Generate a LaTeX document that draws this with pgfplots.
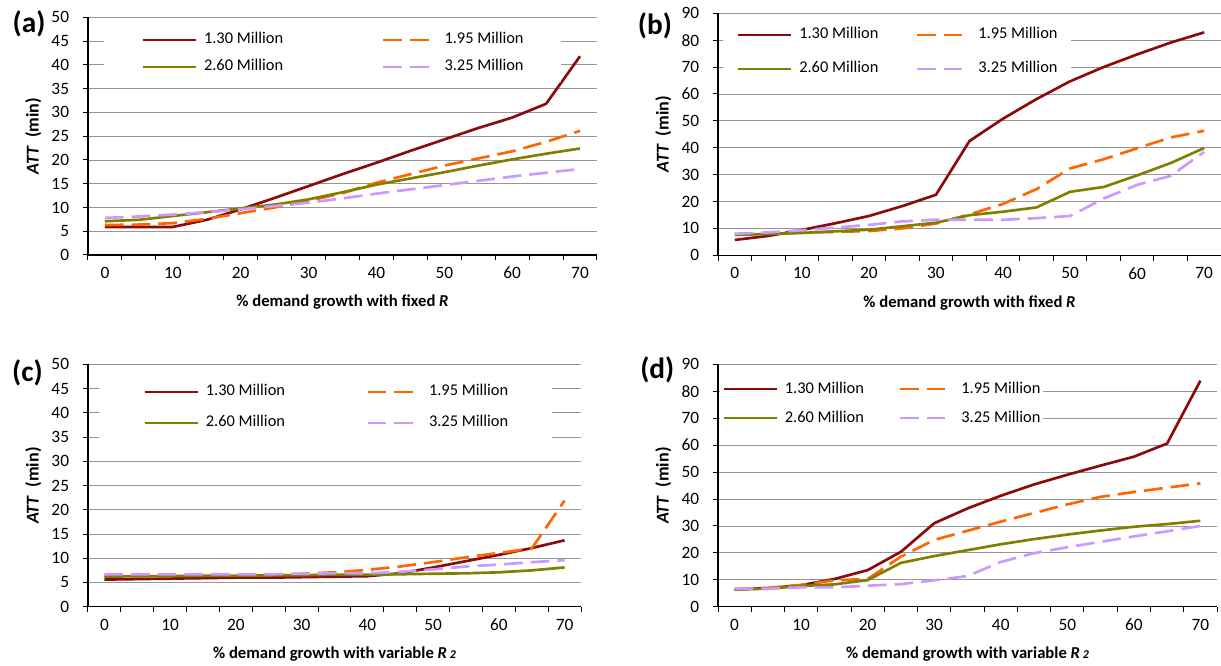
\documentclass[border=0pt]{standalone}
\usepackage{fontspec}
\setmainfont{Carlito}
\usepackage{pgfplots}
\pgfplotsset{compat=1.18}
\usepackage{pgfplotstable}

\definecolor{cRed}{RGB}{139,10,10}
\definecolor{cOrange}{RGB}{255,102,0}
\definecolor{cOlive}{RGB}{128,128,0}
\definecolor{cLav}{RGB}{204,153,255}
\definecolor{cGrid}{RGB}{150,150,150}

% ATT (min) against % demand growth, four network sizes
\pgfplotstableread{
x  s130 s195 s260 s325
0  5.9  6.3  7.1  7.8
5  5.9  6.4  7.4  8.1
10 5.9  6.7  8.2  8.5
15 7.4  7.6  9.0  9.0
20 9.6  8.8  9.8  9.6
25 12.0 10.0 10.6 10.3
30 14.5 11.4 11.7 11.0
35 17.0 13.0 13.2 11.9
40 19.4 15.2 14.8 12.9
45 21.9 17.0 16.1 13.8
50 24.3 18.8 17.4 14.7
55 26.7 20.3 18.8 15.6
60 28.9 21.8 20.1 16.5
65 31.8 23.8 21.3 17.3
70 41.8 26.1 22.4 18.1
}\tabA

\pgfplotstableread{
x  s130 s195 s260 s325
0  5.7  7.6  7.6  8.0
5  7.2  8.0  7.9  8.5
10 9.4  8.4  8.3  9.3
15 11.9 8.7  8.9  10.3
20 14.6 9.0  9.5  11.3
25 18.3 10.0 10.8 12.6
30 22.5 11.8 12.1 13.2
35 42.5 15.2 14.9 13.2
40 50.8 19.1 16.2 13.2
45 58.1 24.6 17.8 13.8
50 64.7 32.3 23.6 14.6
55 70.0 35.7 25.4 21.1
60 74.7 39.8 29.7 26.2
65 79.1 43.8 34.3 29.5
70 82.9 46.3 39.9 38.5
}\tabB

\pgfplotstableread{
x  s130 s195 s260 s325
0  5.6  6.3  6.2  6.7
5  5.7  6.3  6.3  6.7
10 5.8  6.4  6.3  6.7
15 5.9  6.4  6.4  6.7
20 6.0  6.5  6.4  6.7
25 6.0  6.6  6.5  6.7
30 6.1  6.8  6.5  6.8
35 6.2  7.1  6.6  6.9
40 6.3  7.6  6.6  6.9
45 6.9  8.3  6.7  7.2
50 8.1  9.2  6.8  7.7
55 9.4  10.2 6.9  8.3
60 10.7 11.1 7.1  8.7
65 12.1 12.0 7.5  9.2
70 13.7 21.9 8.1  9.6
}\tabC

\pgfplotstableread{
x  s130 s195 s260 s325
0  6.4  6.6  6.4  6.7
5  6.9  7.0  6.7  6.7
10 8.0  8.1  7.7  7.2
15 10.3 9.8  8.3  7.2
20 13.6 10.3 9.9  7.8
25 20.4 18.6 16.3 8.4
30 31.0 24.8 18.8 9.8
35 36.5 28.2 21.0 11.4
40 41.2 31.6 23.2 16.6
45 45.4 34.8 25.1 19.9
50 49.0 38.0 26.8 22.1
55 52.4 40.8 28.3 24.1
60 55.7 42.6 29.7 26.1
65 60.6 44.2 30.7 28.0
70 83.9 45.8 31.9 30.0
}\tabD

\pgfplotsset{
  attplot/.style={
    scale only axis,
    axis x line*=bottom, axis y line*=left,
    axis line style={black, line width=0.9pt, -},
    xmin=-2.5, xmax=72.5, ymin=0,
    xtick={-2.5,2.5,...,72.5}, xticklabels={},
    extra x ticks={0,10,...,70},
    extra x tick labels={0,10,20,30,40,50,60,70},
    extra x tick style={major tick length=0pt, grid=none},
    tick align=outside,
    major tick length=4pt,
    tick style={black, line width=0.75pt},
    ymajorgrids,
    grid style={cGrid, line width=0.6pt},
    /pgf/number format/assume math mode=true,
    ticklabel style={font=\fontsize{13}{15}\selectfont, text=black},
    xticklabel style={anchor=center, inner sep=0pt, yshift=-13.5pt},
    yticklabel style={anchor=east, inner sep=0pt, xshift=-10pt},
    every axis x label/.style={at={(axis description cs:0.5,0)}, anchor=center,
      yshift=-35.5pt, font=\bfseries\fontsize{12.5}{14}\selectfont},
    every axis y label/.style={at={([xshift=-41pt]axis description cs:0,0.5)},
      rotate=90, anchor=center, font=\bfseries\fontsize{13.5}{15}\selectfont},
    ylabel={\textit{ATT}\ \ (min)},
    legend image code/.code={\draw[##1] (0pt,0pt) -- (40pt,0pt);},
    legend cell align=left,
    legend columns=2,
    legend style={draw=none, fill=white, anchor=west,
      font=\fontsize{12.3}{14}\selectfont,
      nodes={inner sep=0pt, text height=8.5pt, text depth=2.5pt},
      /tikz/every odd column/.append style={column sep=5pt}},
  },
  sA/.style={cRed, line width=2pt, line join=round},
  sB/.style={cOrange, line width=2pt, line join=round, dash pattern=on 14pt off 6pt},
  sC/.style={cOlive, line width=2pt, line join=round},
  sD/.style={cLav, line width=2pt, line join=round, dash pattern=on 14pt off 6pt},
}

\newcommand{\Rtwo}{\textit{R}\,{\fontsize{9}{9}\selectfont\textit{2}}}

\begin{document}
\begin{tikzpicture}
\useasboundingbox (0pt,0pt) rectangle (915.75pt,498.75pt);

% (a) fixed R, 0-50 min
\begin{axis}[attplot, at={(66pt,307.5pt)}, anchor=south west,
  width=381.75pt, height=178.3pt,
  ymax=50, ytick={0,5,...,50},
  xlabel={\% demand growth with fixed \textit{R}},
  legend style={at={(0.031,0.848)}, inner xsep=28pt, inner ysep=6pt, row sep=9.25pt,
    /tikz/every even column/.append style={column sep=74pt}}]
\addplot[sA] table[x=x, y=s130] {\tabA}; \addlegendentry{1.30 Million}
\addplot[sB] table[x=x, y=s195] {\tabA}; \addlegendentry{1.95 Million}
\addplot[sC] table[x=x, y=s260] {\tabA}; \addlegendentry{2.60 Million}
\addplot[sD] table[x=x, y=s325] {\tabA}; \addlegendentry{3.25 Million}
\end{axis}

% (b) fixed R, 0-90 min
\begin{axis}[attplot, at={(538.5pt,307.3pt)}, anchor=south west,
  width=377.25pt, height=181.5pt,
  ymax=90, ytick={0,10,...,90},
  xlabel={\% demand growth with fixed \textit{R}},
  legend style={at={(0.01,0.840)}, inner xsep=10pt, inner ysep=3pt, row sep=14.5pt,
    /tikz/every even column/.append style={column sep=28pt}}]
\addplot[sA] table[x=x, y=s130] {\tabB}; \addlegendentry{1.30 Million}
\addplot[sB] table[x=x, y=s195] {\tabB}; \addlegendentry{1.95 Million}
\addplot[sC] table[x=x, y=s260] {\tabB}; \addlegendentry{2.60 Million}
\addplot[sD] table[x=x, y=s325] {\tabB}; \addlegendentry{3.25 Million}
\end{axis}

% (c) variable R2, 0-50 min
\begin{axis}[attplot, at={(66pt,43.7pt)}, anchor=south west,
  width=369.75pt, height=181.8pt,
  ymax=50, ytick={0,5,...,50},
  xlabel={\% demand growth with variable \Rtwo},
  legend style={at={(0.0223,0.822)}, inner xsep=33pt, inner ysep=9pt, row sep=12.25pt,
    /tikz/every even column/.append style={column sep=61pt}}]
\addplot[sA] table[x=x, y=s130] {\tabC}; \addlegendentry{1.30 Million}
\addplot[sB] table[x=x, y=s195] {\tabC}; \addlegendentry{1.95 Million}
\addplot[sC] table[x=x, y=s260] {\tabC}; \addlegendentry{2.60 Million}
\addplot[sD] table[x=x, y=s325] {\tabC}; \addlegendentry{3.25 Million}
\end{axis}

% (d) variable R2, 0-90 min
\begin{axis}[attplot, at={(538.5pt,43.7pt)}, anchor=south west,
  width=374.25pt, height=181.8pt,
  ymax=90, ytick={0,10,...,90},
  xlabel={\% demand growth with variable \Rtwo},
  legend style={at={(0.0026,0.838)}, inner xsep=2pt, inner ysep=6pt, row sep=10.75pt,
    /tikz/every even column/.append style={column sep=26pt}}]
\addplot[sA] table[x=x, y=s130] {\tabD}; \addlegendentry{1.30 Million}
\addplot[sB] table[x=x, y=s195] {\tabD}; \addlegendentry{1.95 Million}
\addplot[sC] table[x=x, y=s260] {\tabD}; \addlegendentry{2.60 Million}
\addplot[sD] table[x=x, y=s325] {\tabD}; \addlegendentry{3.25 Million}
\end{axis}

% panel letters
\node[font=\bfseries\fontsize{22}{24}\selectfont] at (21.75pt,480.75pt) {(a)};
\node[font=\bfseries\fontsize{22}{24}\selectfont] at (491.25pt,479.25pt) {(b)};
\node[font=\bfseries\fontsize{22}{24}\selectfont] at (20.6pt,219.4pt) {(c)};
\node[font=\bfseries\fontsize{22}{24}\selectfont] at (493pt,221.25pt) {(d)};
\end{tikzpicture}
\end{document}
